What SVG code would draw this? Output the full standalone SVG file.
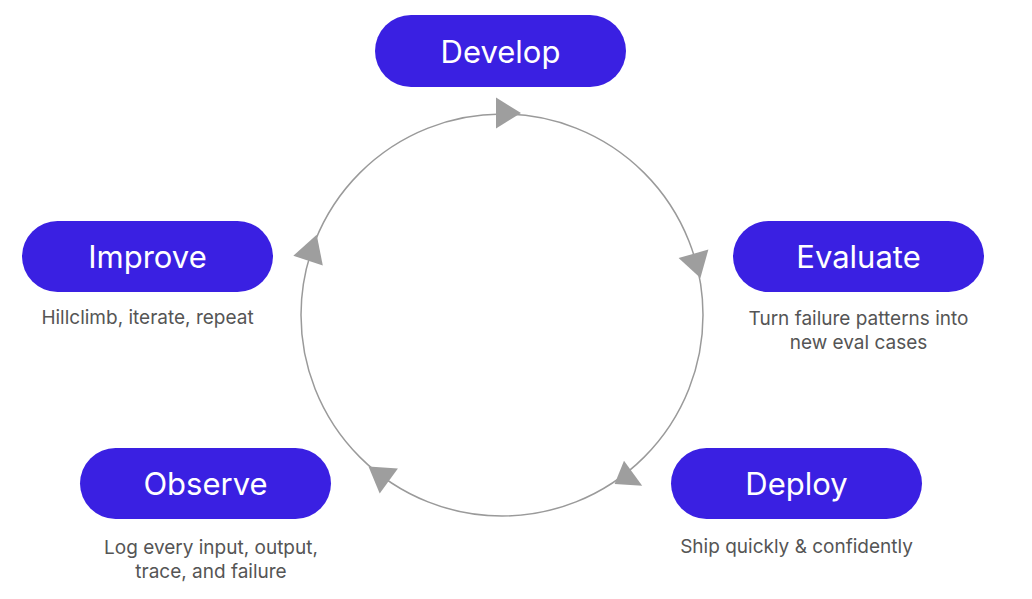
<svg xmlns="http://www.w3.org/2000/svg" width="1032" height="599" viewBox="0 0 1032 599">
<style>
.pill{fill:#3A20E2}
.lbl{font-family:Inter,"Liberation Sans",sans-serif;font-size:31px;fill:#fff;text-anchor:middle}
.sub{font-family:Inter,"Liberation Sans",sans-serif;font-size:19px;fill:#555;text-anchor:middle}
.ring{fill:none;stroke:#9a9a9a;stroke-width:1.5}
.head{fill:#9e9e9e}
</style>
<rect width="1032" height="599" fill="#fff"/>
<g id="connectors">
<circle class="ring" cx="502" cy="315" r="201"/>
<polygon class="head" points="521,113 496,97.5 496,128.5"/>
<polygon class="head" points="700.4,277.9 678.6,258.1 708.4,249.5"/>
<polygon class="head" points="614.6,484.0 642.2,485.8 624.0,460.7"/>
<polygon class="head" points="368.5,466.4 397.9,468.6 379.7,493.6"/>
<polygon class="head" points="316.7,234.8 293.3,255.8 322.8,265.4"/>
</g>
<g id="develop">
<rect class="pill" x="375" y="15" width="251" height="72" rx="36"/>
<text class="lbl" x="500.5" y="63">Develop</text>
</g>
<g id="evaluate">
<rect class="pill" x="733" y="221" width="251" height="71" rx="35.5"/>
<text class="lbl" x="858.5" y="267.5">Evaluate</text>
<text class="sub" x="858.5" y="325">Turn failure patterns into</text>
<text class="sub" x="858.5" y="349">new eval cases</text>
</g>
<g id="deploy">
<rect class="pill" x="671" y="448" width="251" height="71" rx="35.5"/>
<text class="lbl" x="796.5" y="494.5">Deploy</text>
<text class="sub" x="796.5" y="553">Ship quickly &amp; confidently</text>
</g>
<g id="observe">
<rect class="pill" x="80" y="448" width="251" height="71" rx="35.5"/>
<text class="lbl" x="205.5" y="494.5">Observe</text>
<text class="sub" x="211" y="554">Log every input, output,</text>
<text class="sub" x="211" y="578">trace, and failure</text>
</g>
<g id="improve">
<rect class="pill" x="22" y="221" width="251" height="71" rx="35.5"/>
<text class="lbl" x="147.5" y="267.5">Improve</text>
<text class="sub" x="147.5" y="324">Hillclimb, iterate, repeat</text>
</g>
</svg>
